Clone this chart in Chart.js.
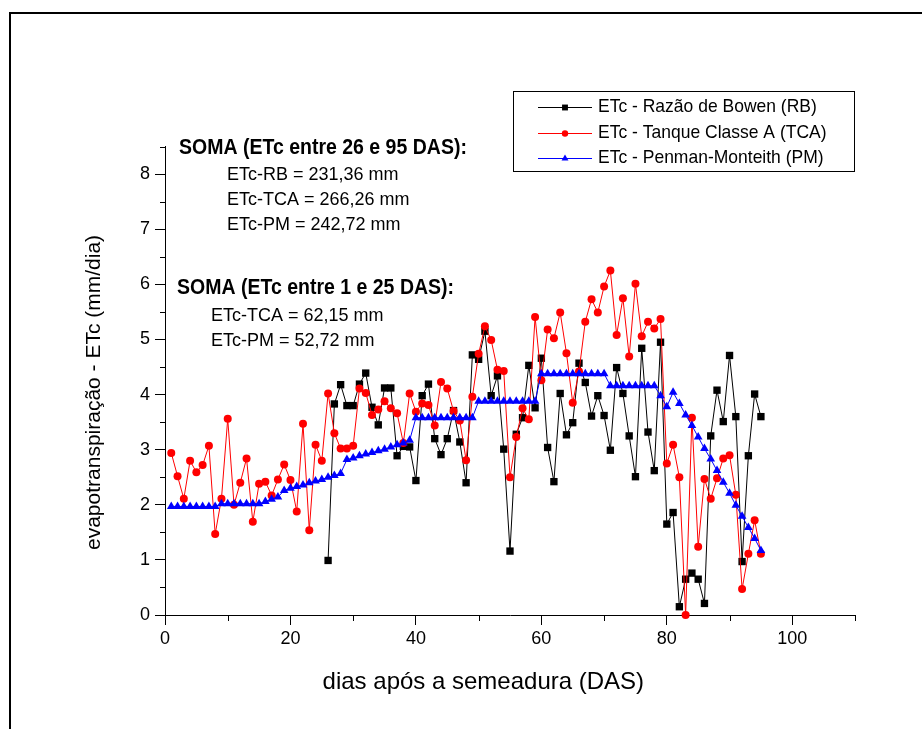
<!DOCTYPE html>
<html>
<head>
<meta charset="utf-8">
<script src="https://cdn.jsdelivr.net/npm/chart.js@4.4.0/dist/chart.umd.min.js"></script>
<style>
  body { margin: 0; background: #fff; }
  #wrap { width: 922px; height: 729px; }
</style>
</head>
<body>
<div id="wrap"><canvas id="etcChart" width="922" height="729"></canvas></div>
<script>
// dias apos a semeadura (DAS)
const das = [1, 2, 3, 4, 5, 6, 7, 8, 9, 10, 11, 12, 13, 14, 15, 16, 17, 18, 19, 20,
  21, 22, 23, 24, 25, 26, 27, 28, 29, 30, 31, 32, 33, 34, 35, 36, 37, 38, 39, 40,
  41, 42, 43, 44, 45, 46, 47, 48, 49, 50, 51, 52, 53, 54, 55, 56, 57, 58, 59, 60,
  61, 62, 63, 64, 65, 66, 67, 68, 69, 70, 71, 72, 73, 74, 75, 76, 77, 78, 79, 80,
  81, 82, 83, 84, 85, 86, 87, 88, 89, 90, 91, 92, 93, 94, 95];

// Razao de Bowen only from DAS 26
const rbDays = das.slice(25);
const etcRB = [0.99, 3.83, 4.18, 3.80, 3.80, 4.19, 4.39, 3.77, 3.45, 4.12,
  4.12, 2.89, 3.06, 3.05, 2.44, 3.98, 4.19, 3.20, 2.91, 3.20,
  3.71, 3.14, 2.40, 4.72, 4.64, 5.15, 3.98, 4.34, 3.01, 1.16,
  3.28, 3.58, 4.53, 3.76, 4.66, 3.04, 2.42, 4.02, 3.27, 3.49,
  4.57, 4.22, 3.61, 3.98, 3.62, 2.99, 4.49, 4.02, 3.25, 2.51,
  4.84, 3.32, 2.62, 4.95, 1.65, 1.86, 0.15, 0.65, 0.76, 0.65,
  0.21, 3.25, 4.08, 3.51, 4.71, 3.60, 0.97, 2.89, 4.01, 3.60];

const etcTCA = [2.94, 2.52, 2.11, 2.80, 2.59, 2.72, 3.07, 1.47, 2.11, 3.56,
  2.00, 2.40, 2.84, 1.69, 2.38, 2.42, 2.17, 2.46, 2.73, 2.45,
  1.88, 3.47, 1.54, 3.09, 2.80, 4.02, 3.30, 3.02, 3.02, 3.07,
  4.11, 4.03, 3.63, 3.73, 3.88, 3.75, 3.66, 3.12, 4.02, 3.69,
  3.84, 3.81, 3.44, 4.23, 4.11, 3.70, 3.53, 2.81, 3.96, 4.74,
  5.24, 4.99, 4.45, 4.43, 2.50, 3.23, 3.75, 3.55, 5.41, 4.26,
  5.18, 5.02, 5.49, 4.75, 3.85, 4.42, 5.32, 5.73, 5.49, 5.96,
  6.25, 5.08, 5.75, 4.69, 6.01, 5.06, 5.32, 5.20, 5.37, 2.75,
  3.09, 2.50, 0.00, 3.58, 1.24, 2.47, 2.11, 2.48, 2.84, 2.90,
  2.18, 0.47, 1.11, 1.72, 1.11];

const etcPM = [1.97, 1.97, 1.97, 1.97, 1.97, 1.97, 1.97, 1.97, 2.02, 2.02,
  2.02, 2.02, 2.02, 2.02, 2.02, 2.06, 2.10, 2.14, 2.26, 2.30,
  2.33, 2.36, 2.40, 2.43, 2.46, 2.50, 2.53, 2.57, 2.82, 2.85,
  2.89, 2.92, 2.95, 2.98, 3.01, 3.05, 3.09, 3.12, 3.17, 3.58,
  3.58, 3.58, 3.58, 3.58, 3.58, 3.58, 3.58, 3.58, 3.58, 3.88,
  3.88, 3.88, 3.88, 3.88, 3.88, 3.88, 3.88, 3.88, 3.88, 4.38,
  4.38, 4.38, 4.38, 4.38, 4.38, 4.38, 4.38, 4.38, 4.38, 4.38,
  4.16, 4.16, 4.16, 4.16, 4.16, 4.16, 4.16, 4.16, 3.98, 3.78,
  4.04, 3.84, 3.63, 3.44, 3.23, 3.02, 2.83, 2.62, 2.41, 2.21,
  1.99, 1.79, 1.59, 1.39, 1.17];

const seriesNames = [
  "ETc - Razão de Bowen (RB)",
  "ETc - Tanque Classe A (TCA)",
  "ETc - Penman-Monteith (PM)"
];

const notes = [
  { text: "SOMA (ETc entre 26 e 95 DAS):", x: 179, y: 148, bold: true },
  { text: "ETc-RB = 231,36 mm", x: 227, y: 175 },
  { text: "ETc-TCA = 266,26 mm", x: 227, y: 200 },
  { text: "ETc-PM = 242,72 mm", x: 227, y: 225 },
  { text: "SOMA (ETc entre 1 e 25 DAS):", x: 177, y: 288, bold: true },
  { text: "ETc-TCA = 62,15 mm", x: 211, y: 316 },
  { text: "ETc-PM = 52,72 mm", x: 211, y: 341 }
];

const FONT = 'Arial, "Liberation Sans", sans-serif';
const NBSP = "\u00a0";

function toPoints(xs, ys) {
  return xs.map((d, i) => ({ x: d, y: ys[i] }));
}

// text in the original is a bit taller than wide
function tallText(ctx, text, x, y, sy) {
  ctx.save();
  ctx.translate(x, y);
  ctx.scale(1, sy);
  ctx.fillText(text, 0, 0);
  ctx.restore();
}

const extras = {
  id: "extras",
  afterDraw(chart) {
    const ctx = chart.ctx;
    const xs = chart.scales.x;
    const ys = chart.scales.y;
    ctx.save();

    // outer frame (only top and left visible)
    ctx.strokeStyle = "#000";
    ctx.lineWidth = 2;
    ctx.beginPath();
    ctx.moveTo(10, 729);
    ctx.lineTo(10, 13);
    ctx.lineTo(922, 13);
    ctx.stroke();

    // minor ticks
    ctx.lineWidth = 1;
    ctx.beginPath();
    for (let v = 0.5; v <= 8.5; v += 1) {
      const py = Math.round(ys.getPixelForValue(v)) + 0.5;
      ctx.moveTo(xs.left - 5, py);
      ctx.lineTo(xs.left, py);
    }
    for (let v = 10; v <= 110; v += 20) {
      const px = Math.round(xs.getPixelForValue(v)) + 0.5;
      ctx.moveTo(px, ys.bottom);
      ctx.lineTo(px, ys.bottom + 6);
    }
    ctx.stroke();

    // text notes
    ctx.fillStyle = "#000";
    ctx.textBaseline = "middle";
    ctx.textAlign = "left";
    notes.forEach(n => {
      ctx.font = (n.bold ? "bold 19.5px " : "18px ") + FONT;
      tallText(ctx, n.text, n.x, n.y, n.bold ? 1.12 : 1.05);
    });

    // legend box
    ctx.strokeStyle = "#000";
    ctx.lineWidth = 1;
    ctx.strokeRect(513.5, 91.5, 341, 80);
    const rows = [107, 133, 158];
    chart.data.datasets.forEach((ds, i) => {
      const y = rows[i];
      ctx.strokeStyle = ds.borderColor;
      ctx.beginPath();
      ctx.moveTo(538, y + 0.5);
      ctx.lineTo(592, y + 0.5);
      ctx.stroke();
      ctx.fillStyle = ds.pointBackgroundColor;
      Chart.helpers.drawPoint(ctx, {
        pointStyle: ds.pointStyle,
        radius: ds.pointRadius * 0.8,
        rotation: 0,
        borderWidth: 0
      }, 565, y + 0.5);
      ctx.fillStyle = "#000";
      ctx.font = "17.5px " + FONT;
      tallText(ctx, ds.label, 598, y, 1.05);
    });

    ctx.restore();
  }
};

const ctx = document.getElementById("etcChart").getContext("2d");
new Chart(ctx, {
  type: "line",
  data: {
    datasets: [
      {
        label: seriesNames[0],
        data: toPoints(rbDays, etcRB),
        borderColor: "#000000",
        backgroundColor: "#000000",
        pointBackgroundColor: "#000000",
        pointStyle: "rect",
        pointRadius: 5.2,
        order: 3
      },
      {
        label: seriesNames[1],
        data: toPoints(das, etcTCA),
        borderColor: "#ff0000",
        backgroundColor: "#ff0000",
        pointBackgroundColor: "#ff0000",
        pointStyle: "circle",
        pointRadius: 4,
        order: 2
      },
      {
        label: seriesNames[2],
        data: toPoints(das, etcPM),
        borderColor: "#0000ff",
        backgroundColor: "#0000ff",
        pointBackgroundColor: "#0000ff",
        pointStyle: "triangle",
        pointRadius: 5,
        order: 1
      }
    ].map(ds => Object.assign({
      borderWidth: 1,
      pointBorderWidth: 0,
      pointHoverRadius: 0,
      tension: 0,
      fill: false,
      clip: false
    }, ds))
  },
  options: {
    responsive: false,
    devicePixelRatio: 1,
    animation: false,
    layout: { padding: { top: 146.6, right: 67, bottom: 0, left: 0 } },
    plugins: {
      legend: { display: false },
      tooltip: { enabled: false }
    },
    scales: {
      x: {
        type: "linear",
        min: 0,
        max: 110,
        ticks: {
          stepSize: 20,
          includeBounds: false,
          color: "#000",
          font: { family: FONT, size: 18 },
          padding: 3,
          maxRotation: 0,
          autoSkip: false
        },
        grid: { drawOnChartArea: false, drawTicks: true, tickLength: 10, color: "#000", lineWidth: 1 },
        border: { display: true, color: "#000", width: 1 },
        title: {
          display: true,
          // trailing spaces shift the centred title left, as in the original
          text: "dias após a semeadura (DAS)" + NBSP.repeat(8),
          color: "#000",
          font: { family: FONT, size: 24 },
          padding: { top: 0, bottom: 32 }
        },
        afterFit(scale) { scale.height = 114; }
      },
      y: {
        min: 0,
        max: 8.5,
        ticks: {
          stepSize: 1,
          includeBounds: false,
          color: "#000",
          font: { family: FONT, size: 18 },
          padding: 5
        },
        grid: { drawOnChartArea: false, drawTicks: true, tickLength: 10, color: "#000", lineWidth: 1 },
        border: { display: true, color: "#000", width: 1 },
        title: {
          display: true,
          text: "evapotranspiração - ETc (mm/dia)" + NBSP.repeat(4),
          color: "#000",
          font: { family: FONT, size: 21 },
          padding: { top: 82, bottom: 0 }
        },
        afterFit(scale) { scale.width = 165; }
      }
    }
  },
  plugins: [extras]
});
</script>
</body>
</html>
